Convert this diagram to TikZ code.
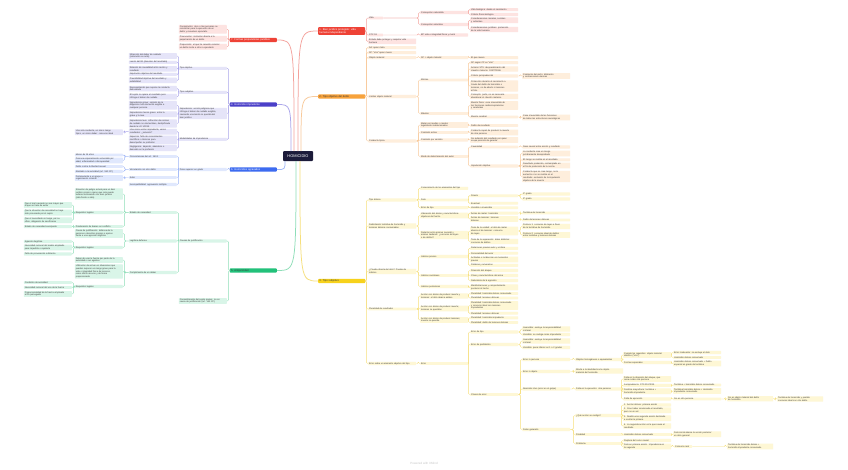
\documentclass[tikz,border=0pt]{standalone}
\usepackage{fontspec}
\setmainfont{Liberation Sans}
\definecolor{ctr}{HTML}{1C1B3A}
\definecolor{txt}{HTML}{3A3A3A}
\definecolor{redM}{HTML}{EE4236}\definecolor{redF}{HTML}{FDE3E1}\definecolor{redL}{HTML}{F4A29C}
\definecolor{orgM}{HTML}{F7A23B}\definecolor{orgF}{HTML}{FEEEDC}\definecolor{orgL}{HTML}{F8C99A}
\definecolor{yelM}{HTML}{F7D21C}\definecolor{yelF}{HTML}{FEF7D5}\definecolor{yelL}{HTML}{F6DF7C}
\definecolor{purM}{HTML}{4B40C8}\definecolor{purF}{HTML}{E5E4F8}\definecolor{purL}{HTML}{ABA6EA}
\definecolor{bluM}{HTML}{3D6BF0}\definecolor{bluF}{HTML}{E0E8FD}\definecolor{bluL}{HTML}{9DB5F7}
\definecolor{grnM}{HTML}{22C17A}\definecolor{grnF}{HTML}{D9F5E8}\definecolor{grnL}{HTML}{8EDEB8}
\tikzset{
  nb/.style={rounded corners=0.6pt, inner xsep=1pt, inner ysep=0.5pt, align=left, text width=46pt,
    font=\fontsize{2.2}{2.8}\selectfont, text=txt},
  R/.style={nb, anchor=west}, L/.style={nb, anchor=east},
  rF/.style={fill=redF}, oF/.style={fill=orgF}, yF/.style={fill=yelF},
  pF/.style={fill=purF}, bF/.style={fill=bluF}, gF/.style={fill=grnF},
  mainbox/.style={rounded corners=0.8pt, inner xsep=1.2pt, inner ysep=1pt, align=left, text width=44.6pt,
    font=\fontsize{2.6}{3.2}\selectfont},
  rl/.style={draw=redL, line width=0.45pt, rounded corners=1.2pt},
  ol/.style={draw=orgL, line width=0.45pt, rounded corners=1.2pt},
  yl/.style={draw=yelL, line width=0.45pt, rounded corners=1.2pt},
  pl/.style={draw=purL, line width=0.45pt, rounded corners=1.2pt},
  bl/.style={draw=bluL, line width=0.45pt, rounded corners=1.2pt},
  gl/.style={draw=grnL, line width=0.45pt, rounded corners=1.2pt},
}
\newcommand\conR[3]{\draw[#1] (#2.east) -| ([xshift=-1.6pt]#3.west) -- (#3.west);}
\newcommand\conL[3]{\draw[#1] (#2.west) -| ([xshift=1.6pt]#3.east) -- (#3.east);}
\begin{document}
\begin{tikzpicture}[x=1pt,y=-1pt]
\path[use as bounding box, fill=white] (0,0) rectangle (848,469);

% ---------- centre and main branches
\node[fill=ctr, text=white, rounded corners=1pt, minimum width=30pt, minimum height=10pt, inner sep=0pt,
  font=\fontsize{3.9}{4.5}\selectfont] (C) at (298,156) {HOMICIDIO};

\node[mainbox, fill=redM, text=white, anchor=west] (B1) at (318,31) {1. Bien jurídico protegido: vida\\humana independiente};
\node[mainbox, fill=orgM, text=txt, anchor=west] (B2) at (318,96.5) {2. Tipo objetivo del delito};
\node[mainbox, fill=yelM, text=txt, anchor=west] (B3) at (318,281) {3. Tipo subjetivo};
\node[mainbox, fill=redM, text=white, anchor=east] (B7) at (277,40) {7. Formas preparatorias punibles};
\node[mainbox, fill=purM, text=white, anchor=east] (B4) at (277,104.5) {4. Homicidio imprudente};
\node[mainbox, fill=bluM, text=white, anchor=east] (B6) at (277,169.5) {6. Homicidios agravados};
\node[mainbox, fill=grnM, text=txt, anchor=east] (B5) at (277,270.5) {5. Antijuricidad};

\coordinate (s1) at (298,151); \coordinate (s2) at (301,151); \coordinate (s3) at (300,161);
\coordinate (s7) at (294,151); \coordinate (s4) at (291,151); \coordinate (s6) at (285,161);
\coordinate (s5) at (296,161);
\draw[redL, line width=0.75pt] (s1) .. controls (298,31) .. (B1.west);
\draw[orgL, line width=0.75pt] (s2) .. controls (301,96.5) .. (B2.west);
\draw[yelL, line width=0.75pt] (s3) .. controls (300,281) .. (B3.west);
\draw[redL, line width=0.75pt] (s7) .. controls (294,40) .. (B7.east);
\draw[purL, line width=0.75pt] (s4) .. controls (291,104.5) .. (B4.east);
\draw[bluL, line width=0.75pt] (s6) .. controls (285,169.5) .. (B6.east);
\draw[grnL, line width=0.75pt] (s5) .. controls (296,270.5) .. (B5.east);

% ---------- branch 1
\node[R,rF,text width=13pt] (a1) at (368,18) {Vida};
\node[R,rF,text width=13pt] (a2) at (368,35) {STC 53};
\node[R,rF] (a3) at (368,41.3) {Estado debe proteger y respetar vida\\humana};
\node[R,rF] (a11) at (420,12.5) {Concepción naturalista};
\node[R,rF] (a12) at (420,24.5) {Concepción valorativa};
\node[R,rF] (a21) at (420,35) {BP vida e integridad física y moral};
\node[R,rF] (a111) at (470,9.7) {Vida biológica: desde el nacimiento};
\node[R,rF] (a112) at (470,14.5) {Criterio físico-biológico};
\node[R,rF] (a121) at (470,20.3) {Consideraciones morales, sociales\\y culturales};
\node[R,rF] (a122) at (470,29.5) {Consideraciones jurídicas: protección\\de la vida humana};
\foreach \c in {a1,a2,a3} {\conR{rl}{B1}{\c}}
\foreach \c in {a11,a12} {\conR{rl}{a1}{\c}}
\conR{rl}{a2}{a21}
\foreach \c in {a111,a112} {\conR{rl}{a11}{\c}}
\foreach \c in {a121,a122} {\conR{rl}{a12}{\c}}

% ---------- branch 2
\node[R,oF] (b1) at (368,47.7) {SA: quien mata};
\node[R,oF] (b2) at (368,52.7) {SP: ``otro'' quien muere};
\node[R,oF] (b3) at (368,57.7) {Objeto material};
\node[R,oF] (b4) at (368,96.5) {Límites objeto material};
\node[R,oF] (b5) at (368,141) {Conducta típica};
\node[R,oF] (b31) at (420,57.7) {SP = objeto material};
\node[R,oF] (b311) at (470,57.7) {El que muere};
\node[R,oF] (b41) at (420,80) {Mínimo};
\node[R,oF] (b42) at (420,113.5) {Máximo};
\node[R,oF] (b411) at (470,62.7) {SP según CP es ``otro''};
\node[R,oF] (b412) at (470,69) {Anterior STS: desprendimiento del\\claustro materno: DOCTRINA};
\node[R,oF] (b413) at (470,76) {Criterio jurisprudencial};
\node[R,oF] (b4131) at (522,76) {Comienzo del parto: dilatación\\y contracciones uterinas};
\node[R,oF] (b414) at (470,86) {Protección durante el nacimiento a\\través del delito de homicidio o\\lesiones, no de aborto ni lesiones\\al feto};
\node[R,oF] (b415) at (470,96.5) {Concepto: parto, no es necesario\\abandonar el claustro materno};
\node[R,oF] (b421) at (470,105.5) {Muerte física: cese irreversible de\\las funciones cardiorrespiratorias\\y cerebrales};
\node[R,oF] (b422) at (470,117) {Muerte cerebral};
\node[R,oF] (b4221) at (522,117.5) {Cese irreversible de las funciones\\de todas las estructuras neurológicas};
\node[R,oF] (b51) at (420,125) {Matar por medios o modos\\legalmente indeterminados};
\node[R,oF] (b511) at (470,125.5) {Delito de resultado};
\node[R,oF] (b52) at (420,132.5) {Comisión activa};
\node[R,oF] (b521) at (470,132.5) {Conducta capaz de producir la muerte\\de otra persona};
\node[R,oF] (b53) at (420,140) {Comisión por omisión};
\node[R,oF] (b531) at (470,140) {No evitación del resultado por quien\\ocupa posición de garante};
\node[R,oF] (b54) at (420,156.5) {Modo de determinación del autor};
\node[R,oF] (b541) at (470,147) {Causalidad};
\node[R,oF] (b5411) at (522,147) {Nexo causal entre acción y resultado};
\node[R,oF] (b542) at (470,166) {Imputación objetiva};
\node[R,oF] (b5421) at (522,153.5) {La conducta crea un riesgo\\jurídicamente desaprobado};
\node[R,oF] (b5422) at (522,159.8) {El riesgo se realiza en el resultado};
\node[R,oF] (b5423) at (522,165.5) {Resultado producido, contemplado en\\el fin de protección de la norma};
\node[R,oF] (b5424) at (522,176.5) {Conducta que no crea riesgo, no lo\\aumenta o no se realiza en el\\resultado: exclusión de la imputación\\objetiva de la muerte};
\foreach \c in {b1,b2,b3,b4,b5} {\conR{ol}{B2}{\c}}
\conR{ol}{b3}{b31} \conR{ol}{b31}{b311}
\foreach \c in {b41,b42} {\conR{ol}{b4}{\c}}
\foreach \c in {b411,b412,b413,b414,b415} {\conR{ol}{b41}{\c}}
\conR{ol}{b413}{b4131}
\foreach \c in {b421,b422} {\conR{ol}{b42}{\c}}
\conR{ol}{b422}{b4221}
\foreach \c in {b51,b52,b53,b54} {\conR{ol}{b5}{\c}}
\conR{ol}{b51}{b511} \conR{ol}{b52}{b521} \conR{ol}{b53}{b531}
\foreach \c in {b541,b542} {\conR{ol}{b54}{\c}}
\conR{ol}{b541}{b5411}
\foreach \c in {b5421,b5422,b5423,b5424} {\conR{ol}{b542}{\c}}

% ---------- branch 3
\node[R,yF] (c1) at (368,200) {Tipo doloso};
\node[R,yF] (c2) at (368,226) {Delimitación tentativa de homicidio y\\lesiones dolosas consumadas};
\node[R,yF] (c3) at (368,271.5) {¿Prueba directa del dolo? Prueba de\\indicios};
\node[R,yF] (c4) at (368,309) {Pluralidad de resultados};
\node[R,yF] (c5) at (368,363.5) {Error sobre un elemento objetivo del tipo};
\node[R,yF] (c11) at (420,188.3) {Conocimiento de los elementos del tipo};
\node[R,yF] (c12) at (420,200) {Dolo};
\node[R,yF] (c13) at (420,207.7) {Error de tipo};
\node[R,yF] (c121) at (470,195.7) {Directo};
\node[R,yF] (c122) at (470,203.3) {Eventual};
\node[R,yF] (c131) at (470,207.7) {Vencible o invencible};
\node[R,yF] (c1211) at (522,194) {1º grado};
\node[R,yF] (c1212) at (522,199) {2º grado};
\node[R,yF] (c21) at (420,215.5) {Valoración del ánimo y características\\objetivas del hecho};
\node[R,yF] (c22) at (420,235) {Relación entre animus necandi y\\animus laedendi: ¿concurso de leyes\\o de delitos?};
\node[R,yF] (c211) at (470,213.2) {Ánimo de matar: homicidio};
\node[R,yF] (c212) at (470,219) {Ánimo de lesionar: lesiones\\dolosas};
\node[R,yF] (c2111) at (522,213) {Tentativa de homicidio};
\node[R,yF] (c2121) at (522,220) {Delito de lesiones dolosas};
\node[R,yF] (c221) at (470,231) {Tesis de la unidad: el dolo de matar\\abarca el de lesionar: concurso\\de leyes};
\node[R,yF] (c222) at (470,241.5) {Tesis de la separación: dolos distintos:\\concurso de delitos};
\node[R,yF] (c2211) at (522,226.5) {Postura 1: concurso de leyes a favor\\de la tentativa de homicidio};
\node[R,yF] (c2212) at (522,235) {Postura 2: concurso ideal de delitos\\entre tentativa y lesiones dolosas};
\node[R,yF] (c31) at (420,256.5) {Indicios previos};
\node[R,yF] (c32) at (420,275.5) {Indicios coetáneos};
\node[R,yF] (c33) at (420,286.5) {Indicios posteriores};
\node[R,yF] (c311) at (470,248.3) {Relaciones previas autor y víctima};
\node[R,yF] (c312) at (470,253.3) {Personalidad del autor};
\node[R,yF] (c313) at (470,259.5) {Actitudes o incidencias en momentos\\previos};
\node[R,yF] (c314) at (470,265.3) {Palabras y amenazas};
\node[R,yF] (c321) at (470,270.5) {Dirección del ataque};
\node[R,yF] (c322) at (470,275.5) {Clase y características del arma};
\node[R,yF] (c323) at (470,280.5) {Naturaleza de la agresión};
\node[R,yF] (c331) at (470,287.4) {Manifestaciones y comportamiento\\posterior al hecho};
\node[R,yF] (c41) at (420,296) {Acción con ánimo de producir muerte y\\lesiones: el dolo abarca ambos};
\node[R,yF] (c411) at (470,293.5) {Pluralidad: homicidio doloso consumado};
\node[R,yF] (c412) at (470,298) {Pluralidad: lesiones dolosas};
\node[R,yF] (c42) at (420,308.5) {Acción con ánimo de producir muerte;\\lesiones no queridas};
\node[R,yF] (c421) at (470,305.5) {Pluralidad: homicidio doloso consumado\\y concurso ideal con lesiones\\imprudentes};
\node[R,yF] (c422) at (470,313.3) {Pluralidad: lesiones dolosas};
\node[R,yF] (c43) at (420,320) {Acción con ánimo de producir lesiones;\\muerte no querida};
\node[R,yF] (c431) at (470,317.8) {Pluralidad: homicidio imprudente};
\node[R,yF] (c432) at (470,322.5) {Pluralidad: delito de lesiones dolosas};
\node[R,yF] (c51) at (420,363.5) {Error};
\node[R,yF] (c511) at (470,332) {Error de tipo};
\node[R,yF] (c512) at (470,344.5) {Error de prohibición};
\node[R,yF] (c513) at (470,394.5) {Clases de error};
\node[R,yF] (c5111) at (522,329) {Invencible: excluye la responsabilidad\\criminal};
\node[R,yF] (c5112) at (522,334.5) {Vencible: se castiga como imprudente};
\node[R,yF] (c5121) at (522,341) {Invencible: excluye la responsabilidad\\criminal};
\node[R,yF] (c5122) at (522,347.5) {Vencible: pena inferior en 1 o 2 grados};
\node[R,yF] (c5131) at (522,359.5) {Error in persona};
\node[R,yF] (c5132) at (522,371.5) {Error in objeto};
\node[R,yF] (c5133) at (522,389) {Aberratio ictus (error en el golpe)};
\node[R,yF] (c5134) at (522,429.5) {Dolus generalis};
\node[R,yF] (c51311) at (575,359.5) {Objetos homogéneos o equivalentes};
\node[R,yF] (c5131a) at (623,355) {Cumple los requisitos: objeto material\\idéntico (``otro'')};
\node[R,yF] (c5131b) at (623,362.5) {Formas especiales};
\node[R,yF] (c5131a1) at (673,352.5) {Error irrelevante: no excluye el dolo};
\node[R,yF] (c5131a2) at (673,357.5) {Homicidio doloso consumado};
\node[R,yF] (c5131b1) at (673,363.5) {Homicidio doloso consumado + Delito\\especial en grado de tentativa};
\node[R,yF] (c51321) at (575,371) {Afecta a la identidad como objeto\\material del homicidio};
\node[R,yF] (c51331) at (575,389) {Falla en la ejecución: otra persona};
\node[R,yF] (c5133a) at (623,379) {Falla en la dirección del ataque, que\\recae sobre otra persona};
\node[R,yF] (c5133b) at (623,385.3) {Jurisprudencia: STS 210/2015};
\node[R,yF] (c5133c) at (623,391.3) {Doctrina mayoritaria: tentativa +\\homicidio imprudente};
\node[R,yF] (c5133d) at (623,399) {Falta de ejecución};
\node[R,yF] (c5133b1) at (673,385) {Tentativa + homicidio doloso consumado};
\node[R,yF] (c5133c1) at (673,391) {Tentativa homicidio doloso + Homicidio\\imprudente consumado};
\node[R,yF] (c5133d1) at (673,399) {No es otra persona};
\node[R,yF,text width=44pt] (c5133d2) at (727,398.7) {No es objeto material del delito\\de homicidio};
\node[R,yF,text width=44pt] (c5133d3) at (777,399) {Tentativa de homicidio y posible\\concurso ideal con otro delito};
\node[R,yF] (c51341) at (575,415.5) {¿Qué acción se castiga?};
\node[R,yF] (q1) at (623,405) {1. Acción dolosa: primera acción};
\node[R,yF] (q2) at (623,410.3) {2. Cree haber ocasionado el resultado,\\pero no es así};
\node[R,yF] (q3) at (623,418.3) {3. Realiza una segunda acción destinada\\a ocultar la primera};
\node[R,yF] (q4) at (623,426) {4. La segunda acción es la que causa el\\resultado};
\node[R,yF] (c51342) at (575,434.5) {Finalidad};
\node[R,yF] (fx) at (623,434.5) {Homicidio doloso consumado};
\node[R,yF] (fy) at (673,434.2) {Dolo inicial abarca la acción posterior:\\un dolo general};
\node[R,yF] (c51343) at (575,443.5) {Problema};
\node[R,yF] (pr1) at (623,440.5) {Ruptura del curso causal};
\node[R,yF] (pr2) at (623,446.5) {Dolo en primera acción. Imprudencia en\\la segunda};
\node[R,yF,text width=16pt] (pr21) at (674,446.5) {Concurso real};
\node[R,yF,text width=44pt] (pr22) at (727,446.5) {Tentativa de homicidio doloso +\\homicidio imprudente consumado};
\foreach \c in {c1,c2,c3,c4,c5} {\conR{yl}{B3}{\c}}
\foreach \c in {c11,c12,c13} {\conR{yl}{c1}{\c}}
\foreach \c in {c121,c122} {\conR{yl}{c12}{\c}}
\conR{yl}{c13}{c131}
\foreach \c in {c1211,c1212} {\conR{yl}{c121}{\c}}
\foreach \c in {c21,c22} {\conR{yl}{c2}{\c}}
\foreach \c in {c211,c212} {\conR{yl}{c21}{\c}}
\conR{yl}{c211}{c2111} \conR{yl}{c212}{c2121}
\foreach \c in {c221,c222} {\conR{yl}{c22}{\c}}
\foreach \c in {c2211,c2212} {\conR{yl}{c221}{\c}}
\foreach \c in {c31,c32,c33} {\conR{yl}{c3}{\c}}
\foreach \c in {c311,c312,c313,c314} {\conR{yl}{c31}{\c}}
\foreach \c in {c321,c322,c323} {\conR{yl}{c32}{\c}}
\conR{yl}{c33}{c331}
\foreach \c in {c41,c42,c43} {\conR{yl}{c4}{\c}}
\foreach \c in {c411,c412} {\conR{yl}{c41}{\c}}
\foreach \c in {c421,c422} {\conR{yl}{c42}{\c}}
\foreach \c in {c431,c432} {\conR{yl}{c43}{\c}}
\conR{yl}{c5}{c51}
\foreach \c in {c511,c512,c513} {\conR{yl}{c51}{\c}}
\foreach \c in {c5111,c5112} {\conR{yl}{c511}{\c}}
\foreach \c in {c5121,c5122} {\conR{yl}{c512}{\c}}
\foreach \c in {c5131,c5132,c5133,c5134} {\conR{yl}{c513}{\c}}
\conR{yl}{c5131}{c51311}
\foreach \c in {c5131a,c5131b} {\conR{yl}{c51311}{\c}}
\foreach \c in {c5131a1,c5131a2} {\conR{yl}{c5131a}{\c}}
\conR{yl}{c5131b}{c5131b1}
\conR{yl}{c5132}{c51321}
\conR{yl}{c5133}{c51331}
\foreach \c in {c5133a,c5133b,c5133c,c5133d} {\conR{yl}{c51331}{\c}}
\conR{yl}{c5133b}{c5133b1} \conR{yl}{c5133c}{c5133c1} \conR{yl}{c5133d}{c5133d1}
\conR{yl}{c5133d1}{c5133d2} \conR{yl}{c5133d2}{c5133d3}
\foreach \c in {c51341,c51342,c51343} {\conR{yl}{c5134}{\c}}
\foreach \c in {q1,q2,q3,q4} {\conR{yl}{c51341}{\c}}
\conR{yl}{c51342}{fx} \conR{yl}{fx}{fy}
\foreach \c in {pr1,pr2} {\conR{yl}{c51343}{\c}}
\conR{yl}{pr2}{pr21} \conR{yl}{pr21}{pr22}

% ---------- branch 7
\node[L,rF] (d1) at (227,29.3) {Conspiración: dos o más personas se\\conciertan para la ejecución de un\\delito y resuelven ejecutarlo};
\node[L,rF] (d2) at (227,38.7) {Provocación: incitación directa a la\\perpetración de un delito};
\node[L,rF] (d3) at (227,46.7) {Proposición: el que ha resuelto cometer\\un delito invita a otros a ejecutarlo};
\foreach \c in {d1,d2,d3} {\conL{rl}{B7}{\c}}

% ---------- branch 4
\node[L,pF] (e1) at (227,68.3) {Tipo objetivo};
\node[L,pF] (e2) at (227,92.3) {Tipo subjetivo};
\node[L,pF] (e3) at (227,113.5) {Imprudencia: acción peligrosa que\\infringe el deber de cuidado exigible,\\causando una lesión no querida del\\bien jurídico};
\node[L,pF] (e4) at (227,139.3) {Modalidades de imprudencia};
\node[L,pF] (e11) at (177,56) {Infracción del deber de cuidado\\(valoración ex ante)};
\node[L,pF] (e12) at (177,62.3) {Lesión del BJ (desvalor del resultado)};
\node[L,pF] (e13) at (177,68.8) {Relación de causalidad entre acción y\\resultado};
\node[L,pF] (e14) at (177,74.3) {Imputación objetiva del resultado};
\node[L,pF] (e15) at (177,80.3) {Previsibilidad objetiva del resultado y\\evitabilidad};
\node[L,pF] (e21) at (177,88.7) {Representación que supone la conducta\\descuidada};
\node[L,pF] (e22) at (177,96.7) {El sujeto no quiere el resultado pero\\infringe el deber de cuidado};
\node[L,pF] (e31) at (177,105.3) {Imprudencia grave: omisión de la\\diligencia más elemental exigible a\\cualquier persona};
\node[L,pF] (e32) at (177,114.2) {Imprudencia menos grave: entre la\\grave y la leve};
\node[L,pF] (e33) at (177,123.5) {Imprudencia leve: infracción de normas\\de cuidado no elementales, destipificada\\desde la LO 1/2015};
\node[L,pF] (e41) at (177,131.7) {Una única acción imprudente, varios\\resultados: ¿solución?};
\node[L,pF] (e42) at (177,140) {Impericia: falta de conocimientos\\científicos o técnicos para\\desempeñar su profesión};
\node[L,pF] (e43) at (177,148.1) {Negligencia: dejación, abandono o\\descuido en la profesión};
\node[L,pF] (e411) at (123,132.2) {Una sola conducta, un único riesgo\\típico, un único deber: concurso ideal};
\foreach \c in {e1,e2,e3,e4} {\conL{pl}{B4}{\c}}
\foreach \c in {e11,e12,e13,e14,e15} {\conL{pl}{e1}{\c}}
\foreach \c in {e21,e22} {\conL{pl}{e2}{\c}}
\foreach \c in {e31,e32,e33} {\conL{pl}{e3}{\c}}
\foreach \c in {e41,e42,e43} {\conL{pl}{e4}{\c}}
\conL{pl}{e41}{e411}

% ---------- branch 6
\node[L,bF] (f1) at (227,169.5) {Pena superior en grado};
\node[L,bF] (f11) at (177,156.5) {Circunstancias del art. 140.1};
\node[L,bF] (f12) at (177,169.5) {Vinculación con otro delito};
\node[L,bF] (f13) at (177,177.5) {Autor};
\node[L,bF] (f14) at (177,184.5) {Incompatibilidad: agravación múltiple};
\node[L,bF] (f111) at (123,155) {Menor de 16 años};
\node[L,bF] (f112) at (123,160.5) {Persona especialmente vulnerable por\\edad, enfermedad o discapacidad};
\node[L,bF] (f121) at (123,166.5) {Delito contra la libertad sexual};
\node[L,bF] (f122) at (123,171.5) {Atentado a la autoridad (art. 550 CP)};
\node[L,bF] (f131) at (123,178) {Perteneciente a un grupo u\\organización criminal};
\conL{bl}{B6}{f1}
\foreach \c in {f11,f12,f13,f14} {\conL{bl}{f1}{\c}}
\foreach \c in {f111,f112} {\conL{bl}{f11}{\c}}
\foreach \c in {f121,f122} {\conL{bl}{f12}{\c}}
\conL{bl}{f13}{f131}

% ---------- branch 5
\node[L,gF] (g1) at (227,241) {Causas de justificación};
\node[L,gF] (g2) at (227,301) {Consentimiento del sujeto pasivo: no es\\causa de justificación (art. 143 CP)};
\node[L,gF] (g11) at (177,212.5) {Estado de necesidad};
\node[L,gF] (g12) at (177,241) {Legítima defensa};
\node[L,gF] (g13) at (177,272.5) {Cumplimiento de un deber};
\node[L,gF] (g111) at (123,194) {Situación de peligro actual para un bien\\jurídico propio o ajeno que solo puede\\evitarse lesionando otro bien jurídico\\(vida frente a vida)};
\node[L,gF] (g112) at (123,212.5) {Requisitos legales};
\node[L,gF] (g113) at (123,226.5) {Ponderación de bienes en conflicto};
\node[L,gF] (g1121) at (72,205) {Que el mal causado no sea mayor que\\el que se trate de evitar};
\node[L,gF] (g1122) at (72,212.6) {Que la situación de necesidad no haya\\sido provocada por el sujeto};
\node[L,gF] (g1123) at (72,220.2) {Que el necesitado no tenga, por su\\oficio, obligación de sacrificarse};
\node[L,gF] (g1131) at (72,226.7) {Estado de necesidad exculpante};
\node[L,gF] (g121) at (123,233.5) {Causa de justificación: defensa de la\\persona o derechos propios o ajenos\\frente a una agresión ilegítima};
\node[L,gF] (g122) at (123,247.5) {Requisitos legales};
\node[L,gF] (g1221) at (72,241.5) {Agresión ilegítima};
\node[L,gF] (g1222) at (72,247.5) {Necesidad racional del medio empleado\\para impedirla o repelerla};
\node[L,gF] (g1223) at (72,254) {Falta de provocación suficiente};
\node[L,gF] (g131) at (123,260) {Deber de usar la fuerza por parte de la\\autoridad o sus agentes};
\node[L,gF] (g132) at (123,271.5) {Utilización de armas en situaciones que\\puedan suponer un riesgo grave para la\\vida o integridad física de terceros,\\como último recurso y de forma\\proporcionada};
\node[L,gF] (g133) at (123,286.5) {Requisitos legales};
\node[L,gF] (g1331) at (72,282.5) {Condición de autoridad};
\node[L,gF] (g1332) at (72,287.5) {Necesidad racional del uso de la fuerza};
\node[L,gF] (g1333) at (72,294) {Proporcionalidad de la fuerza empleada\\al fin perseguido};
\foreach \c in {g1,g2} {\conL{gl}{B5}{\c}}
\foreach \c in {g11,g12,g13} {\conL{gl}{g1}{\c}}
\foreach \c in {g111,g112,g113} {\conL{gl}{g11}{\c}}
\foreach \c in {g1121,g1122,g1123} {\conL{gl}{g112}{\c}}
\conL{gl}{g113}{g1131}
\foreach \c in {g121,g122} {\conL{gl}{g12}{\c}}
\foreach \c in {g1221,g1222,g1223} {\conL{gl}{g122}{\c}}
\foreach \c in {g131,g132,g133} {\conL{gl}{g13}{\c}}
\foreach \c in {g1331,g1332,g1333} {\conL{gl}{g133}{\c}}

% ---------- watermark
\node[text=black!22, font=\fontsize{3}{3.5}\selectfont] (wm) at (424,463) {Powered with XMind};
\end{tikzpicture}
\end{document}
